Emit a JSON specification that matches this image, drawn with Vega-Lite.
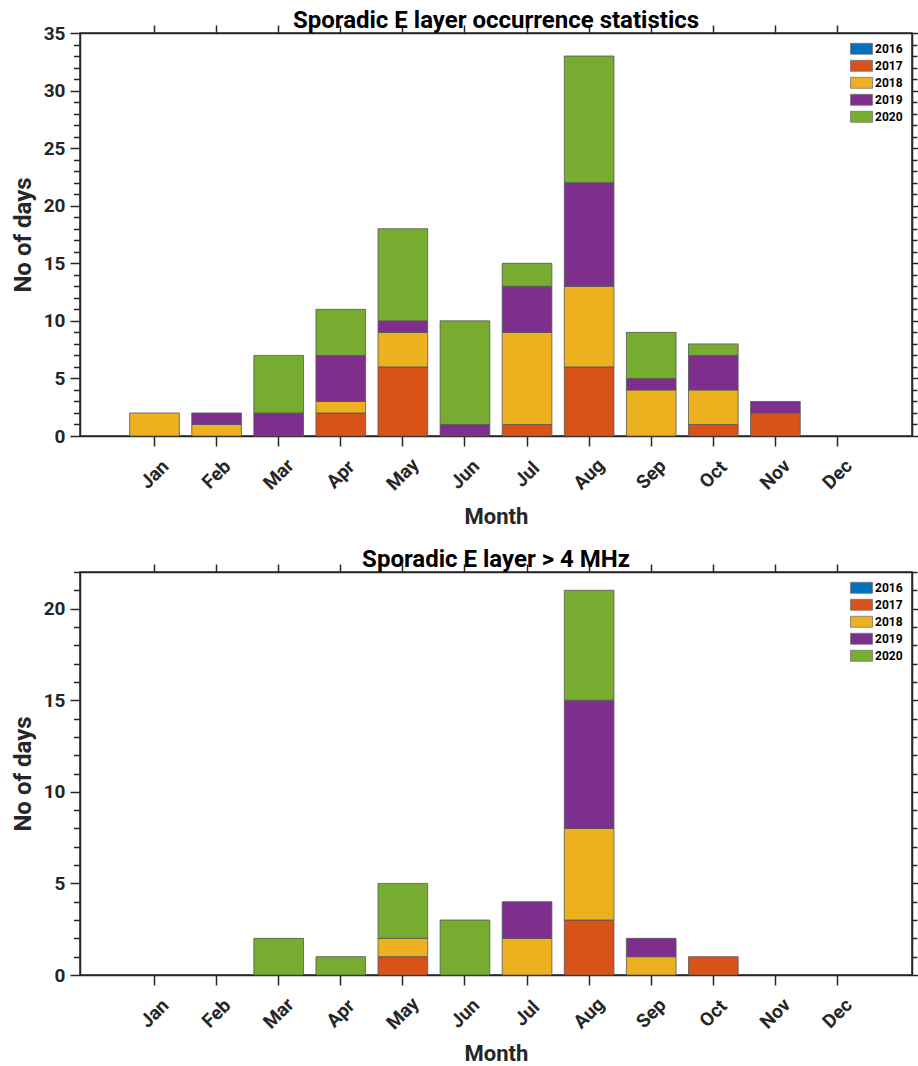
{
  "$schema": "https://vega.github.io/schema/vega-lite/v6.json",
  "background": "white",
  "padding": {"left": 10, "top": 7, "right": 4, "bottom": 0},
  "spacing": 17,
  "datasets": {
    "occurrence": [
      {"month": "Jan", "year": "2018", "days": 2},
      {"month": "Feb", "year": "2018", "days": 1},
      {"month": "Feb", "year": "2019", "days": 1},
      {"month": "Mar", "year": "2019", "days": 2},
      {"month": "Mar", "year": "2020", "days": 5},
      {"month": "Apr", "year": "2017", "days": 2},
      {"month": "Apr", "year": "2018", "days": 1},
      {"month": "Apr", "year": "2019", "days": 4},
      {"month": "Apr", "year": "2020", "days": 4},
      {"month": "May", "year": "2017", "days": 6},
      {"month": "May", "year": "2018", "days": 3},
      {"month": "May", "year": "2019", "days": 1},
      {"month": "May", "year": "2020", "days": 8},
      {"month": "Jun", "year": "2019", "days": 1},
      {"month": "Jun", "year": "2020", "days": 9},
      {"month": "Jul", "year": "2017", "days": 1},
      {"month": "Jul", "year": "2018", "days": 8},
      {"month": "Jul", "year": "2019", "days": 4},
      {"month": "Jul", "year": "2020", "days": 2},
      {"month": "Aug", "year": "2017", "days": 6},
      {"month": "Aug", "year": "2018", "days": 7},
      {"month": "Aug", "year": "2019", "days": 9},
      {"month": "Aug", "year": "2020", "days": 11},
      {"month": "Sep", "year": "2018", "days": 4},
      {"month": "Sep", "year": "2019", "days": 1},
      {"month": "Sep", "year": "2020", "days": 4},
      {"month": "Oct", "year": "2017", "days": 1},
      {"month": "Oct", "year": "2018", "days": 3},
      {"month": "Oct", "year": "2019", "days": 3},
      {"month": "Oct", "year": "2020", "days": 1},
      {"month": "Nov", "year": "2017", "days": 2},
      {"month": "Nov", "year": "2019", "days": 1}
    ],
    "above4": [
      {"month": "Mar", "year": "2020", "days": 2},
      {"month": "Apr", "year": "2020", "days": 1},
      {"month": "May", "year": "2017", "days": 1},
      {"month": "May", "year": "2018", "days": 1},
      {"month": "May", "year": "2020", "days": 3},
      {"month": "Jun", "year": "2020", "days": 3},
      {"month": "Jul", "year": "2018", "days": 2},
      {"month": "Jul", "year": "2019", "days": 2},
      {"month": "Aug", "year": "2017", "days": 3},
      {"month": "Aug", "year": "2018", "days": 5},
      {"month": "Aug", "year": "2019", "days": 7},
      {"month": "Aug", "year": "2020", "days": 6},
      {"month": "Sep", "year": "2018", "days": 1},
      {"month": "Sep", "year": "2019", "days": 1},
      {"month": "Oct", "year": "2017", "days": 1}
    ]
  },
  "config": {
    "font": "Roboto",
    "view": {"stroke": "#262626", "strokeWidth": 1.5},
    "axis": {
      "grid": false,
      "domainColor": "#262626",
      "domainWidth": 1.5,
      "tickColor": "#262626",
      "tickWidth": 1.5,
      "labelFont": "Roboto",
      "labelFontWeight": "bold",
      "labelFontSize": 19,
      "labelColor": "#262626",
      "titleFont": "Roboto",
      "titleFontWeight": "bold",
      "titleFontSize": 22,
      "titleColor": "#262626"
    },
    "title": {
      "font": "Roboto",
      "fontSize": 24,
      "fontWeight": "bold",
      "color": "#000000",
      "baseline": "alphabetic",
      "offset": -8.5,
      "anchor": "middle",
      "frame": "group"
    },
    "legend": {
      "title": null,
      "orient": "none",
      "legendX": 770,
      "legendY": 7.6,
      "symbolType": "M-1,-0.5H1V0.5H-1Z",
      "symbolSize": 484,
      "symbolStrokeColor": "#777777",
      "symbolStrokeWidth": 0.8,
      "symbolOpacity": 1,
      "labelFont": "Roboto",
      "labelFontWeight": "bold",
      "labelFontSize": 12,
      "labelColor": "#000000",
      "labelOffset": 2,
      "clipHeight": 16.4,
      "rowPadding": 0
    }
  },
  "vconcat": [
    {
      "width": 832,
      "height": 403,
      "title": {"text": "Sporadic E layer occurrence statistics"},
      "data": {"name": "occurrence"},
      "layer": [
        {
          "mark": {"type": "bar", "stroke": "#555555", "strokeWidth": 0.8},
          "encoding": {
            "x": {
              "field": "month", "type": "nominal",
              "scale": {"domain": ["Jan","Feb","Mar","Apr","May","Jun","Jul","Aug","Sep","Oct","Nov","Dec"], "paddingInner": 0.2, "paddingOuter": 0.8},
              "axis": {"orient": "bottom", "title": "Month", "labelAngle": -45, "labelAlign": "center", "labelBaseline": "middle", "labelPadding": 28, "labelFontSize": 19, "tickSize": 10, "titlePadding": 13}
            },
            "y": {
              "field": "days", "type": "quantitative", "stack": "zero",
              "scale": {"domain": [0, 35], "nice": false},
              "axis": {
                "orient": "left", "title": "No of days", "titleFontSize": 24,
                "values": [0,1,2,3,4,5,6,7,8,9,10,11,12,13,14,15,16,17,18,19,20,21,22,23,24,25,26,27,28,29,30,31,32,33,34,35],
                "labelExpr": "datum.value % 5 === 0 ? datum.label : ''",
                "labelOverlap": false,
                "tickSize": {"condition": {"test": "datum.value % 5 === 0", "value": 10}, "value": 6.5},
                "labelPadding": 5,
                "titlePadding": 8
              }
            },
            "color": {
              "field": "year", "type": "nominal",
              "scale": {"domain": ["2016","2017","2018","2019","2020"], "range": ["#0072BD","#D95319","#EDB120","#7E2F8E","#77AC30"]}
            },
            "order": {"field": "year", "sort": "ascending"}
          }
        },
        {
          "mark": {"type": "bar", "opacity": 0},
          "encoding": {
            "x": {
              "field": "month", "type": "nominal",
              "scale": {"domain": ["Jan","Feb","Mar","Apr","May","Jun","Jul","Aug","Sep","Oct","Nov","Dec"], "paddingInner": 0.2, "paddingOuter": 0.8},
              "axis": {"orient": "top", "title": null, "labels": false, "tickSize": 8}
            },
            "y": {
              "field": "days", "type": "quantitative", "stack": "zero",
              "scale": {"domain": [0, 35], "nice": false},
              "axis": {
                "orient": "right", "title": null, "labels": false,
                "values": [0,1,2,3,4,5,6,7,8,9,10,11,12,13,14,15,16,17,18,19,20,21,22,23,24,25,26,27,28,29,30,31,32,33,34,35],
                "tickSize": {"condition": {"test": "datum.value % 5 === 0", "value": 8}, "value": 5}
              }
            }
          }
        }
      ],
      "resolve": {"axis": {"x": "independent", "y": "independent"}}
    },
    {
      "width": 832,
      "height": 403,
      "title": {"text": "Sporadic E layer > 4 MHz"},
      "data": {"name": "above4"},
      "layer": [
        {
          "mark": {"type": "bar", "stroke": "#555555", "strokeWidth": 0.8},
          "encoding": {
            "x": {
              "field": "month", "type": "nominal",
              "scale": {"domain": ["Jan","Feb","Mar","Apr","May","Jun","Jul","Aug","Sep","Oct","Nov","Dec"], "paddingInner": 0.2, "paddingOuter": 0.8},
              "axis": {"orient": "bottom", "title": "Month", "labelAngle": -45, "labelAlign": "center", "labelBaseline": "middle", "labelPadding": 28, "labelFontSize": 19, "tickSize": 10, "titlePadding": 11}
            },
            "y": {
              "field": "days", "type": "quantitative", "stack": "zero",
              "scale": {"domain": [0, 22], "nice": false},
              "axis": {
                "orient": "left", "title": "No of days", "titleFontSize": 24,
                "values": [0,1,2,3,4,5,6,7,8,9,10,11,12,13,14,15,16,17,18,19,20,21,22],
                "labelExpr": "datum.value % 5 === 0 ? datum.label : ''",
                "labelOverlap": false,
                "tickSize": {"condition": {"test": "datum.value % 5 === 0", "value": 10}, "value": 6.5},
                "labelPadding": 5,
                "titlePadding": 8
              }
            },
            "color": {
              "field": "year", "type": "nominal",
              "scale": {"domain": ["2016","2017","2018","2019","2020"], "range": ["#0072BD","#D95319","#EDB120","#7E2F8E","#77AC30"]}
            },
            "order": {"field": "year", "sort": "ascending"}
          }
        },
        {
          "mark": {"type": "bar", "opacity": 0},
          "encoding": {
            "x": {
              "field": "month", "type": "nominal",
              "scale": {"domain": ["Jan","Feb","Mar","Apr","May","Jun","Jul","Aug","Sep","Oct","Nov","Dec"], "paddingInner": 0.2, "paddingOuter": 0.8},
              "axis": {"orient": "top", "title": null, "labels": false, "tickSize": 8}
            },
            "y": {
              "field": "days", "type": "quantitative", "stack": "zero",
              "scale": {"domain": [0, 22], "nice": false},
              "axis": {
                "orient": "right", "title": null, "labels": false,
                "values": [0,1,2,3,4,5,6,7,8,9,10,11,12,13,14,15,16,17,18,19,20,21,22],
                "tickSize": {"condition": {"test": "datum.value % 5 === 0", "value": 8}, "value": 5}
              }
            }
          }
        }
      ],
      "resolve": {"axis": {"x": "independent", "y": "independent"}}
    }
  ],
  "resolve": {"legend": {"color": "independent"}}
}
